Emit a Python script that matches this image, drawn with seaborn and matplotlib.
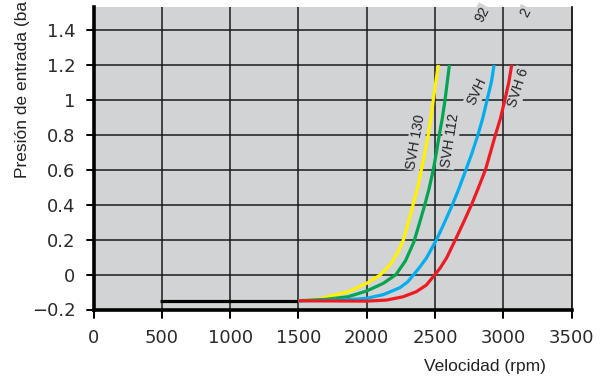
import matplotlib
matplotlib.use("Agg")
import matplotlib.pyplot as plt
import seaborn as sns
import pandas as pd

# ---- data ----
base_rpm = [485, 1500]
base_bar = [-0.15, -0.15]

svh130_rpm = [1500, 1660, 1732, 1866, 2000, 2098, 2171, 2232, 2270, 2308, 2340, 2372,
              2401, 2426, 2451, 2470, 2488, 2507, 2525]
svh130_bar = [-0.15, -0.14, -0.123, -0.098, -0.05, -0.003, 0.055, 0.131, 0.2, 0.305, 0.4, 0.495,
              0.6, 0.695, 0.8, 0.895, 1.0, 1.105, 1.2]

svh112_rpm = [1500, 1700, 1864, 2000, 2122, 2215, 2285, 2345, 2389, 2426, 2458, 2488,
              2510, 2532, 2554, 2574, 2590, 2606]
svh112_bar = [-0.15, -0.142, -0.127, -0.094, -0.05, 0.0, 0.08, 0.185, 0.3, 0.4, 0.495, 0.6,
              0.695, 0.8, 0.895, 1.0, 1.1, 1.2]

svh92_rpm = [1500, 1800, 2000, 2122, 2244, 2300, 2345, 2391, 2438, 2512, 2574, 2628, 2677,
             2727, 2771, 2815, 2850, 2882, 2914, 2933]
svh92_bar = [-0.15, -0.147, -0.136, -0.115, -0.075, -0.042, 0.0, 0.045, 0.095, 0.2, 0.305, 0.4,
             0.495, 0.6, 0.695, 0.8, 0.895, 1.0, 1.105, 1.2]

svh62_rpm = [1500, 2000, 2146, 2267, 2364, 2437, 2490, 2537, 2586, 2650, 2710, 2768, 2820,
             2870, 2905, 2943, 2980, 3012, 3042, 3062]
svh62_bar = [-0.15, -0.152, -0.146, -0.127, -0.098, -0.06, -0.01, 0.036, 0.096, 0.2, 0.3, 0.4,
             0.5, 0.6, 0.695, 0.8, 0.895, 1.0, 1.105, 1.2]

x_ticks = [0, 500, 1000, 1500, 2000, 2500, 3000, 3500]
y_ticks = [-0.2, 0, 0.2, 0.4, 0.6, 0.8, 1.0, 1.2, 1.4]
y_ticklabels = ["\u22120.2", "0", "0.2", "0.4", "0.6", "0.8", "1", "1.2", "1.4"]

series = [
    ("SVH 130", svh130_rpm, svh130_bar, "#fff200"),
    ("SVH 112", svh112_rpm, svh112_bar, "#00a651"),
    ("SVH 92", svh92_rpm, svh92_bar, "#00aeef"),
    ("SVH 62", svh62_rpm, svh62_bar, "#ed1c24"),
]

sns.set_theme(style="white")
plt.rcParams["font.family"] = ["Liberation Sans", "DejaVu Sans"]

GRAY = "#d1d3d4"
INK = "#000000"
L, R, B, T = 93.5, 571.5, 309.5, 7.0
fig = plt.figure(figsize=(6.14, 3.81), dpi=100)
ax = fig.add_axes([L / 614, 1 - B / 381, (R - L) / 614, (B - T) / 381])
ax.set_facecolor(GRAY)

ax.set_xlim(0, 3500)
ax.set_ylim(-0.2, 1.532)

# grid lines at the tick values
for xv in x_ticks[1:-1]:
    ax.axvline(xv, color="#1a1a1a", lw=1.1, zorder=1)
for yv in y_ticks[1:]:
    ax.axhline(yv, color="#1a1a1a", lw=1.1, zorder=1)

for name, xs, ys, col in series:
    df = pd.DataFrame({"rpm": xs, "bar": ys})
    sns.lineplot(data=df, x="rpm", y="bar", ax=ax, color=col, lw=2.3,
                 sort=False, estimator=None, zorder=3,
                 solid_capstyle="butt", solid_joinstyle="round")

df_base = pd.DataFrame({"rpm": base_rpm, "bar": base_bar})
sns.lineplot(data=df_base, x="rpm", y="bar", ax=ax, color="black", lw=2.3,
             sort=False, estimator=None, zorder=2.5, solid_capstyle="butt")

ax.set_xlim(0, 3500)
ax.set_ylim(-0.2, 1.532)
ax.set_xticks(x_ticks)
ax.set_xticklabels([str(v) for v in x_ticks])
ax.set_yticks(y_ticks)
ax.set_yticklabels(y_ticklabels)
ax.grid(False)

for lab in ax.get_xticklabels() + ax.get_yticklabels():
    lab.set_family(["DejaVu Sans"])
    lab.set_fontsize(13)
    lab.set_color("#2a2a2a")

ax.tick_params(axis="both", length=0)
ax.tick_params(axis="y", pad=13)
ax.tick_params(axis="x", pad=14)

ax.spines["top"].set_visible(False)
ax.spines["left"].set_linewidth(2.6)
ax.spines["bottom"].set_linewidth(2.6)
ax.spines["right"].set_linewidth(1.2)
for s in ["left", "bottom", "right"]:
    ax.spines[s].set_color("black")
    ax.spines[s].set_zorder(4)

# outward tick marks at the tick values, drawn on the figure in pixel units
fig.canvas.draw()
to_fig = fig.transFigure.inverted()
for xv in x_ticks:
    px, py = ax.transData.transform((xv, -0.2))
    (fx0, fy0) = to_fig.transform((px, py))
    (fx1, fy1) = to_fig.transform((px, py - 8))
    fig.add_artist(plt.Line2D([fx0, fx1], [fy0, fy1], color=INK, lw=1.4,
                              transform=fig.transFigure, zorder=10))
for yv in y_ticks:
    px, py = ax.transData.transform((0, yv))
    (fx0, fy0) = to_fig.transform((px, py))
    (fx1, fy1) = to_fig.transform((px - 7, py))
    fig.add_artist(plt.Line2D([fx0, fx1], [fy0, fy1], color=INK, lw=1.4,
                              transform=fig.transFigure, zorder=10))

ax.set_xlabel("")
ax.set_ylabel("")

fig.text(485 / 614, 1 - 366 / 381, "Velocidad (rpm)", ha="center", va="center",
         fontsize=12.5, color="#222222")
fig.text(23 / 614, 1 - 178 / 381, "Presión de entrada (ba", rotation=90,
         ha="center", va="bottom", fontsize=12.5, color="#222222")

bbox = dict(facecolor=GRAY, edgecolor="none", pad=1.0)
labels = [
    ("SVH 130", 2361, 0.762, 80),
    ("SVH 112", 2610, 0.767, 81),
    ("SVH", 2806, 1.049, 65),
    ("SVH 6", 3108, 1.068, 72),
    ("92", 2845, 1.490, 62),
    ("2", 3167, 1.500, 62),
]
for txt, xv, yv, rot in labels:
    ax.text(xv, yv, txt, rotation=rot, ha="center", va="center", fontsize=10,
            color="#222222", bbox=bbox, zorder=1.5, rotation_mode="anchor")

fig.savefig("out.png", dpi=100)
